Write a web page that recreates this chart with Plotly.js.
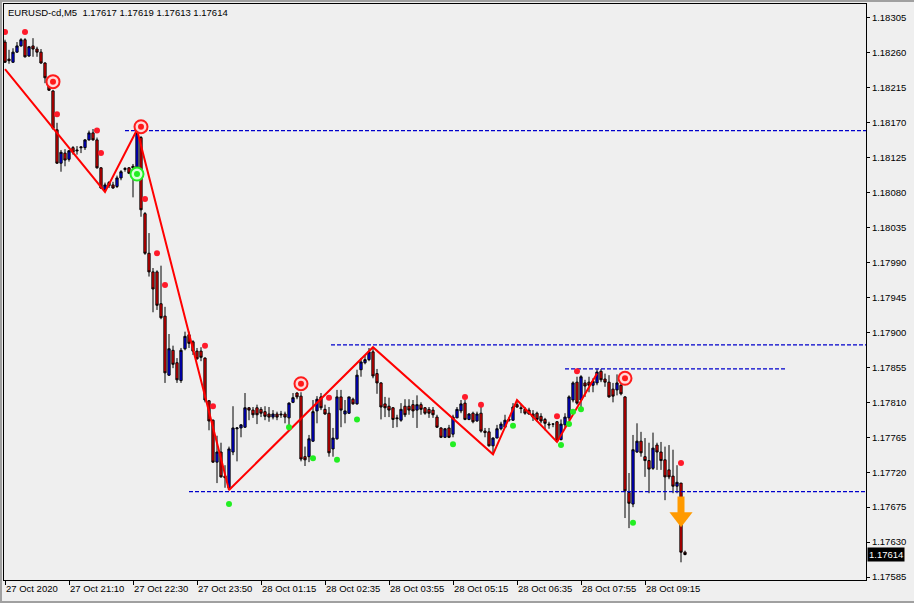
<!DOCTYPE html>
<html>
<head>
<meta charset="utf-8">
<script src="https://cdn.plot.ly/plotly-3.0.1.min.js"></script>
<style>
  html, body { margin: 0; padding: 0; background: #efefef; }
  #wrap { position: relative; width: 914px; height: 603px; overflow: hidden; }
  #chart { width: 914px; height: 603px; }
  #frame { position: absolute; left: 0; top: 0; width: 912px; height: 599px; pointer-events: none;
           border-top: 2px solid #a0a0a0; border-left: 2px solid #a0a0a0; border-bottom: 2px solid #a0a0a0; }
</style>
</head>
<body>
<div id="wrap"><div id="chart"></div><div id="frame"></div></div>
<script>
// ---- data (EURUSD-cd, M5) ----
const symbol = "EURUSD-cd";
const timeframe = "M5";
const opens = [1.18274,1.18252,1.18248,1.18261,1.18269,1.18277,1.18256,1.18269,1.18265,1.18261,
1.18247,1.18226,1.18211,1.18161,1.18118,1.18131,1.18123,1.18138,1.18135,1.18139,
1.18138,1.18148,1.18157,1.18148,1.18112,1.18084,1.18093,1.18090,1.18088,1.18099,
1.18110,1.18112,1.18114,1.18113,1.18151,1.18053,1.18002,1.17978,1.17978,1.17937,
1.17921,1.17845,1.17877,1.17861,1.17838,1.17879,1.17897,1.17888,1.17876,1.17876,
1.17867,1.17812,1.17787,1.17733,1.17746,1.17715,1.17700,1.17746,1.17776,1.17777,
1.17778,1.17803,1.17800,1.17803,1.17801,1.17798,1.17795,1.17791,1.17795,1.17795,
1.17795,1.17790,1.17810,1.17822,1.17818,1.17740,1.17740,1.17760,1.17799,1.17817,
1.17801,1.17796,1.17750,1.17763,1.17817,1.17795,1.17796,1.17814,1.17808,1.17852,
1.17861,1.17865,1.17875,1.17847,1.17835,1.17808,1.17805,1.17803,1.17790,1.17787,
1.17805,1.17805,1.17807,1.17800,1.17807,1.17803,1.17801,1.17800,1.17791,1.17777,
1.17765,1.17777,1.17769,1.17790,1.17799,1.17809,1.17788,1.17796,1.17786,1.17796,
1.17773,1.17772,1.17754,1.17764,1.17776,1.17778,1.17787,1.17787,1.17807,1.17803,
1.17801,1.17800,1.17795,1.17796,1.17792,1.17788,1.17782,1.17782,1.17785,1.17762,
1.17781,1.17790,1.17813,1.17836,1.17813,1.17835,1.17836,1.17832,1.17835,1.17850,
1.17840,1.17836,1.17827,1.17826,1.17832,1.17817,1.17694,1.17679,1.17746,1.17760,
1.17740,1.17735,1.17725,1.17755,1.17746,1.17736,1.17723,1.17715,1.17702,1.17706,
1.17617];
const highs = [1.18277,1.18264,1.18266,1.18274,1.18279,1.18279,1.18269,1.18279,1.18268,1.18265,
1.18248,1.18228,1.18212,1.18170,1.18135,1.18136,1.18135,1.18140,1.18140,1.18140,
1.18149,1.18160,1.18162,1.18151,1.18113,1.18093,1.18095,1.18094,1.18102,1.18109,
1.18113,1.18113,1.18117,1.18161,1.18153,1.18055,1.18028,1.17983,1.17980,1.17986,
1.17933,1.17898,1.17883,1.17867,1.17880,1.17901,1.17901,1.17890,1.17880,1.17881,
1.17868,1.17813,1.17788,1.17767,1.17758,1.17729,1.17753,1.17805,1.17778,1.17782,
1.17822,1.17804,1.17804,1.17807,1.17804,1.17805,1.17804,1.17800,1.17798,1.17799,
1.17798,1.17810,1.17822,1.17823,1.17823,1.17753,1.17768,1.17813,1.17818,1.17822,
1.17807,1.17804,1.17777,1.17826,1.17826,1.17813,1.17817,1.17816,1.17852,1.17867,
1.17871,1.17880,1.17881,1.17853,1.17836,1.17817,1.17816,1.17804,1.17794,1.17809,
1.17814,1.17814,1.17813,1.17819,1.17810,1.17804,1.17804,1.17804,1.17794,1.17778,
1.17777,1.17781,1.17794,1.17804,1.17813,1.17813,1.17796,1.17798,1.17798,1.17804,
1.17777,1.17777,1.17765,1.17781,1.17785,1.17794,1.17791,1.17809,1.17813,1.17808,
1.17804,1.17803,1.17800,1.17798,1.17796,1.17790,1.17785,1.17783,1.17786,1.17788,
1.17796,1.17819,1.17837,1.17843,1.17845,1.17839,1.17843,1.17841,1.17853,1.17853,
1.17847,1.17845,1.17835,1.17846,1.17836,1.17818,1.17719,1.17768,1.17783,1.17772,
1.17764,1.17758,1.17771,1.17758,1.17759,1.17753,1.17755,1.17749,1.17729,1.17706,
1.17619];
const lows = [1.18247,1.18246,1.18247,1.18260,1.18268,1.18254,1.18255,1.18255,1.18255,1.18246,
1.18221,1.18211,1.18161,1.18117,1.18107,1.18114,1.18120,1.18129,1.18129,1.18131,
1.18135,1.18147,1.18147,1.18111,1.18085,1.18081,1.18086,1.18085,1.18086,1.18096,
1.18107,1.18104,1.18074,1.18109,1.18049,1.18000,1.17972,1.17926,1.17929,1.17917,
1.17835,1.17844,1.17854,1.17835,1.17835,1.17877,1.17880,1.17871,1.17865,1.17863,
1.17810,1.17774,1.17732,1.17706,1.17713,1.17700,1.17697,1.17742,1.17734,1.17765,
1.17777,1.17787,1.17790,1.17782,1.17791,1.17787,1.17785,1.17788,1.17787,1.17790,
1.17783,1.17778,1.17809,1.17814,1.17734,1.17728,1.17733,1.17759,1.17783,1.17800,
1.17794,1.17740,1.17740,1.17762,1.17778,1.17783,1.17795,1.17807,1.17807,1.17843,
1.17859,1.17863,1.17841,1.17821,1.17788,1.17791,1.17791,1.17777,1.17778,1.17785,
1.17791,1.17794,1.17790,1.17777,1.17794,1.17794,1.17790,1.17790,1.17777,1.17764,
1.17764,1.17764,1.17765,1.17790,1.17796,1.17787,1.17787,1.17783,1.17785,1.17771,
1.17765,1.17753,1.17743,1.17764,1.17774,1.17777,1.17785,1.17786,1.17803,1.17796,
1.17794,1.17794,1.17786,1.17785,1.17783,1.17774,1.17776,1.17778,1.17759,1.17761,
1.17777,1.17787,1.17810,1.17807,1.17800,1.17817,1.17823,1.17823,1.17832,1.17836,
1.17830,1.17816,1.17810,1.17819,1.17819,1.17661,1.17648,1.17675,1.17745,1.17740,
1.17714,1.17693,1.17723,1.17723,1.17723,1.17684,1.17711,1.17693,1.17693,1.17604,
1.17613];
const closes = [1.18248,1.18250,1.18261,1.18269,1.18277,1.18255,1.18268,1.18265,1.18261,1.18247,
1.18228,1.18212,1.18163,1.18118,1.18132,1.18122,1.18134,1.18132,1.18134,1.18138,
1.18148,1.18157,1.18148,1.18112,1.18086,1.18090,1.18089,1.18086,1.18099,1.18107,
1.18111,1.18105,1.18112,1.18157,1.18058,1.18002,1.17978,1.17956,1.17935,1.17919,
1.17848,1.17879,1.17859,1.17839,1.17877,1.17895,1.17886,1.17876,1.17866,1.17868,
1.17813,1.17786,1.17733,1.17746,1.17714,1.17713,1.17750,1.17777,1.17777,1.17781,
1.17803,1.17800,1.17794,1.17794,1.17796,1.17792,1.17791,1.17795,1.17791,1.17794,
1.17791,1.17809,1.17816,1.17817,1.17737,1.17736,1.17763,1.17798,1.17814,1.17803,
1.17795,1.17745,1.17764,1.17817,1.17800,1.17799,1.17817,1.17808,1.17845,1.17862,
1.17865,1.17875,1.17844,1.17835,1.17804,1.17803,1.17800,1.17788,1.17789,1.17801,
1.17794,1.17800,1.17799,1.17807,1.17801,1.17796,1.17796,1.17794,1.17778,1.17765,
1.17776,1.17765,1.17791,1.17801,1.17808,1.17788,1.17795,1.17785,1.17795,1.17773,
1.17771,1.17754,1.17764,1.17776,1.17782,1.17787,1.17788,1.17804,1.17804,1.17802,
1.17796,1.17795,1.17791,1.17788,1.17786,1.17783,1.17781,1.17782,1.17760,1.17782,
1.17791,1.17817,1.17835,1.17809,1.17843,1.17831,1.17832,1.17837,1.17849,1.17839,
1.17836,1.17817,1.17818,1.17835,1.17821,1.17696,1.17680,1.17749,1.17760,1.17745,
1.17735,1.17724,1.17751,1.17746,1.17735,1.17714,1.17714,1.17702,1.17707,1.17617,
1.17614];

// time axis labels (bar index -> label)
const timeTickIdx = [0,16,32,48,64,80,96,112,128,144,160];
const timeTickText = ["27 Oct 2020","27 Oct 21:10","27 Oct 22:30","27 Oct 23:50","28 Oct 01:15",
  "28 Oct 02:35","28 Oct 03:55","28 Oct 05:15","28 Oct 06:35","28 Oct 07:55","28 Oct 09:15"];
// price axis ticks
const priceTicks = [1.17585,1.17630,1.17675,1.17720,1.17765,1.17810,1.17855,1.17900,1.17945,
  1.17990,1.18035,1.18080,1.18125,1.18170,1.18215,1.18260,1.18305];

// zigzag indicator
const zigzagIdx = [0,25,33,56,92,122,128,138,148];
const zigzagPrice = [1.18239,1.18081,1.18161,1.17697,1.17881,1.17743,1.17813,1.17759,1.17847];

// fractal dots
const redDotIdx = [0,5,13,23,24,35,38,40,50,52,81,115,119,138,143,169];
const redDotPrice = [1.18287,1.18287,1.18181,1.18160,1.18131,1.18072,1.18002,1.17961,1.17883,1.17805,
  1.17816,1.17817,1.17807,1.17792,1.17850,1.17732];
const greenDotIdx = [56,71,77,83,88,112,127,139,141,142,144,157];
const greenDotPrice = [1.17679,1.17778,1.17738,1.17736,1.17788,1.17756,1.17780,1.17755,1.17782,1.17798,1.17801,1.17655];

// target circles
const redTargetIdx = [12,34,74,155];
const redTargetPrice = [1.18223,1.18165,1.17834,1.17841];
const greenTargetIdx = [33];
const greenTargetPrice = [1.18104];

// sell arrow (shaft centre / head centre)
const sellArrowIdx = [169];
const sellArrowShaft = [1.17677];
const sellArrowHead = [1.17662];

// horizontal dashed levels
const levelPrice = [1.18160,1.17884,1.17853,1.17695];
const levelStart = [30,81.5,140,46];
const levelEnd = [null,null,195,null];

// ---- chart ----
const n = opens.length;
const idx = Array.from({length:n},(_,i)=>i);
const xMax = 215.25;
const FONT = "Liberation Sans, Arial, sans-serif";

const traces = [];
levelPrice.forEach((p,k)=>{
  traces.push({type:'scatter', mode:'lines', x:[levelStart[k], levelEnd[k]===null? xMax+2 : levelEnd[k]], y:[p,p],
    line:{color:'#0000cc', width:1.2, dash:'4px,2px'}, hoverinfo:'skip'});
});
traces.push({type:'candlestick', x:idx, open:opens, high:highs, low:lows, close:closes,
  increasing:{line:{color:'#000000', width:1}, fillcolor:'#0000ff'},
  decreasing:{line:{color:'#000000', width:1}, fillcolor:'#ff0000'},
  whiskerwidth:0, hoverinfo:'skip'});
traces.push({type:'scatter', mode:'lines', x:zigzagIdx, y:zigzagPrice, line:{color:'#ff0000', width:2}, hoverinfo:'skip'});
traces.push({type:'scatter', mode:'markers', x:redDotIdx, y:redDotPrice,
  marker:{color:'#ff1a2a', size:6, line:{width:0}}, hoverinfo:'skip'});
traces.push({type:'scatter', mode:'markers', x:greenDotIdx, y:greenDotPrice,
  marker:{color:'#22ee22', size:6, line:{width:0}}, hoverinfo:'skip'});
traces.push({type:'scatter', mode:'markers', x:redTargetIdx, y:redTargetPrice,
  marker:{color:'#ffd8d8', size:13, line:{color:'#ff1a1a', width:2}}, hoverinfo:'skip'});
traces.push({type:'scatter', mode:'markers', x:redTargetIdx, y:redTargetPrice,
  marker:{color:'#ff1a1a', size:6, line:{width:0}}, hoverinfo:'skip'});
traces.push({type:'scatter', mode:'markers', x:greenTargetIdx, y:greenTargetPrice,
  marker:{color:'#d8ffd8', size:13, line:{color:'#22ee22', width:2}}, hoverinfo:'skip'});
traces.push({type:'scatter', mode:'markers', x:greenTargetIdx, y:greenTargetPrice,
  marker:{color:'#22ee22', size:6, line:{width:0}}, hoverinfo:'skip'});
traces.push({type:'scatter', mode:'markers', x:sellArrowIdx, y:sellArrowShaft,
  marker:{symbol:'line-ns', size:13, line:{color:'#ff9a00', width:7}}, hoverinfo:'skip'});
traces.push({type:'scatter', mode:'markers', x:sellArrowIdx, y:sellArrowHead,
  marker:{symbol:'triangle-down', size:20, color:'#ff9a00', line:{width:0}}, hoverinfo:'skip'});

const last = n-1;
const fmt = v => v.toFixed(5);
const titleText = symbol + "," + timeframe + "  " + [opens[last],highs[last],lows[last],closes[last]].map(fmt).join(" ");

const layout = {
  width:914, height:603,
  margin:{l:4, r:48, t:4, b:23},
  paper_bgcolor:'#efefef', plot_bgcolor:'#efefef',
  showlegend:false, hovermode:false,
  font:{family:FONT, size:9.5, color:'#000'},
  title:{text:titleText, x:8/914, xanchor:'left', xref:'container', y:1-13/603, yref:'container', yanchor:'middle',
    font:{family:FONT, size:9.5, color:'#000'}},
  xaxis:{range:[-0.25, xMax], showgrid:false, zeroline:false, showline:true, mirror:true, linecolor:'#000', linewidth:1,
    ticks:'outside', ticklen:4, tickcolor:'#000', tickvals:timeTickIdx, ticktext:timeTickText,
    ticklabelposition:'outside right', rangeslider:{visible:false}, fixedrange:true,
    tickfont:{family:FONT, size:9.5, color:'#000'}},
  yaxis:{range:[1.175812, 1.18323], side:'right', showgrid:false, zeroline:false, showline:true, mirror:true,
    linecolor:'#000', linewidth:1, ticks:'outside', ticklen:3, tickcolor:'#000', tickvals:priceTicks,
    tickformat:'.5f', fixedrange:true, tickfont:{family:FONT, size:9.5, color:'#000'}},
  boxgap:0.2,
  annotations:[{xref:'paper', x:1, xanchor:'left', xshift:1, yref:'y', y:closes[last], yanchor:'middle',
    text:fmt(closes[last]), showarrow:false, bgcolor:'#000', font:{family:FONT, size:9.5, color:'#fff'}, borderpad:1}]
};

Plotly.newPlot('chart', traces, layout, {staticPlot:true, displayModeBar:false});
</script>
</body>
</html>
